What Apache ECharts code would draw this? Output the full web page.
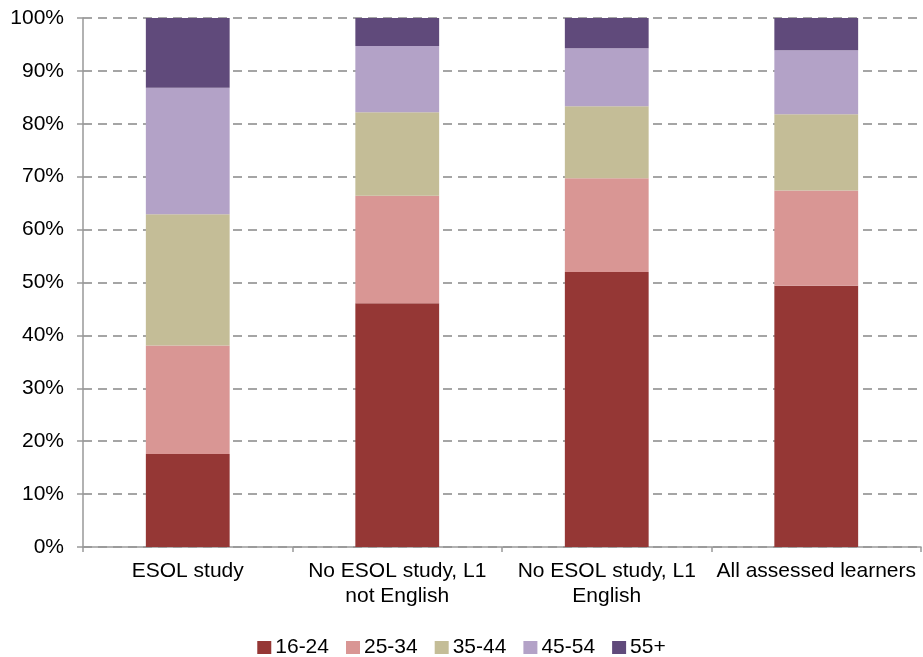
<!DOCTYPE html>
<html>
<head>
<meta charset="utf-8">
<script src="https://cdn.jsdelivr.net/npm/echarts@6/dist/echarts.min.js"></script>
<style>
html,body{margin:0;padding:0;background:#fff;}
#chart{width:923px;height:657px;}
</style>
</head>
<body>
<div id="chart"></div>
<script>
const categories = ['ESOL study', 'No ESOL study, L1\nnot English', 'No ESOL study, L1\nEnglish', 'All assessed learners'];
const seriesNames = ['16-24', '25-34', '35-44', '45-54', '55+'];
const age16_24 = [17.6, 46.1, 52.0, 49.4];
const age25_34 = [20.5, 20.3, 17.7, 18.0];
const age35_44 = [24.8, 15.8, 13.6, 14.4];
const age45_54 = [23.9, 12.5, 11.0, 12.1];
const age55plus = [13.2, 5.3, 5.7, 6.1];
const yTicks = [0, 10, 20, 30, 40, 50, 60, 70, 80, 90, 100];

const colors = ['#953735', '#D99694', '#C4BD97', '#B3A2C7', '#604A7B'];
const values = [age16_24, age25_34, age35_44, age45_54, age55plus];

const chart = echarts.init(document.getElementById('chart'), null, {renderer: 'canvas'});
const font = 'Liberation Sans, Arial, sans-serif';
chart.setOption({
  animation: false,
  textStyle: {fontFamily: font},
  grid: {left: 83, right: 2, top: 18, bottom: 110, containLabel: false},
  legend: {
    data: seriesNames,
    top: 632,
    left: 'center',
    itemWidth: 14,
    itemHeight: 13,
    itemGap: 17,
    icon: 'rect',
    textStyle: {fontSize: 21, color: '#000', fontFamily: font, padding: [0, 0, 0, -1]}
  },
  xAxis: {
    type: 'category',
    data: categories,
    axisLine: {lineStyle: {color: '#999', width: 1.5}},
    axisTick: {show: true, length: 5, lineStyle: {color: '#999', width: 1.5}, alignWithLabel: false},
    axisLabel: {interval: 0, color: '#000', fontSize: 21, lineHeight: 25, margin: 12, fontFamily: font}
  },
  yAxis: {
    type: 'value',
    min: yTicks[0],
    max: yTicks[yTicks.length - 1],
    interval: 10,
    axisLine: {show: true, lineStyle: {color: '#999', width: 1.5}},
    axisTick: {show: true, length: 6, lineStyle: {color: '#999', width: 1.5}},
    axisLabel: {formatter: '{value}%', color: '#000', fontSize: 21, margin: 19, fontFamily: font},
    splitLine: {show: true, lineStyle: {color: '#888', type: [9, 6], width: 1.5}}
  },
  series: seriesNames.map((name, i) => ({
    name: name,
    type: 'bar',
    stack: 'total',
    barWidth: '40%',
    data: values[i],
    itemStyle: {color: colors[i]}
  }))
});
</script>
</body>
</html>
